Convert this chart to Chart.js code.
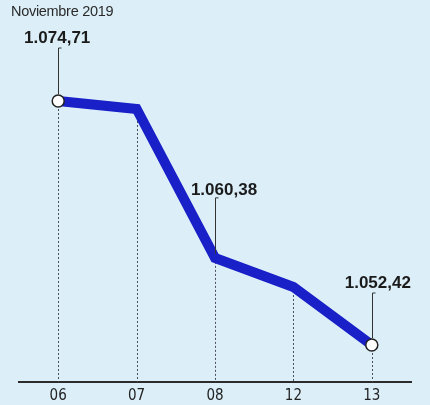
<!DOCTYPE html>
<html>
<head>
<meta charset="utf-8">
<script src="https://cdn.jsdelivr.net/npm/chart.js@4/dist/chart.umd.min.js"></script>
<style>
  html, body { margin: 0; padding: 0; background: #dceff8; }
  #wrap { position: relative; width: 430px; height: 405px; }
  #title { position: absolute; left: 11px; top: 3px; font: 14.5px "Liberation Sans", Arial, sans-serif; color: #2a2a2a; letter-spacing: -0.3px; }
</style>
</head>
<body>
<div id="wrap">
  <canvas id="chart" width="430" height="405"></canvas>
  <div id="title">Noviembre 2019</div>
</div>
<script>
const days = ['06', '07', '08', '12', '13'];
const rates = [1074.71, 1073.98, 1060.38, 1057.72, 1052.42];
const labeled = [0, 2, 4];

// callout placement per labelled point: text offset and leader length
const calloutStyle = {
    0: { dx: -1, textUp: 58, leadUp: 53 },
    2: { dx: 9, textUp: 63, leadUp: 60 },
    4: { dx: 6, textUp: 57, leadUp: 52 }
};

const fmt = v => v.toLocaleString('de-DE', { minimumFractionDigits: 2, maximumFractionDigits: 2 });

const guides = {
    id: 'guides',
    beforeDatasetsDraw(chart) {
        const ctx = chart.ctx;
        const meta = chart.getDatasetMeta(0);
        const bottom = chart.chartArea.bottom;
        ctx.save();
        ctx.strokeStyle = '#4a4f5c';
        ctx.lineWidth = 1;
        ctx.setLineDash([2, 2]);
        meta.data.forEach(pt => {
            ctx.beginPath();
            ctx.moveTo(Math.round(pt.x) + 0.5, pt.y);
            ctx.lineTo(Math.round(pt.x) + 0.5, bottom);
            ctx.stroke();
        });
        ctx.restore();
    },
    afterDatasetsDraw(chart) {
        const ctx = chart.ctx;
        const meta = chart.getDatasetMeta(0);
        ctx.save();
        labeled.forEach(i => {
            const pt = meta.data[i];
            const s = calloutStyle[i];
            const x = Math.round(pt.x) + 0.5;
            const r = pt.options.radius || 3;
            ctx.strokeStyle = '#333';
            ctx.lineWidth = 1;
            ctx.setLineDash([]);
            ctx.beginPath();
            ctx.moveTo(x + 3, pt.y - s.leadUp);
            ctx.lineTo(x, pt.y - s.leadUp);
            ctx.lineTo(x, pt.y - r - 1);
            ctx.stroke();
            ctx.fillStyle = '#1b1b1b';
            ctx.font = 'bold 17px "Liberation Sans", Arial, sans-serif';
            ctx.textAlign = 'center';
            ctx.textBaseline = 'alphabetic';
            ctx.fillText(fmt(rates[i]), pt.x + s.dx, pt.y - s.textUp);
        });
        ctx.restore();
    }
};

new Chart(document.getElementById('chart'), {
    type: 'line',
    data: {
        labels: days,
        datasets: [{
            data: rates,
            borderColor: '#1a20c8',
            borderWidth: 10,
            borderJoinStyle: 'miter',
            tension: 0,
            pointRadius: rates.map((v, i) => (i === 0 || i === rates.length - 1) ? 6 : 0),
            pointBackgroundColor: '#ffffff',
            pointBorderColor: '#222',
            pointBorderWidth: 1.5
        }]
    },
    options: {
        responsive: false,
        animation: false,
        layout: { padding: { top: 20, left: 19, right: 19, bottom: 0 } },
        plugins: { legend: { display: false }, tooltip: { enabled: false } },
        scales: {
            x: {
                offset: true,
                afterFit: s => { s.height = 23; },
                grid: { display: false, drawTicks: false },
                border: { display: true, color: '#2b2b2b', width: 2 },
                ticks: {
                    padding: 5,
                    color: '#222',
                    font: { family: '"DejaVu Sans Condensed", "Liberation Sans Narrow", Arial, sans-serif', size: 15 }
                }
            },
            y: {
                display: false,
                min: 1049.04,
                max: 1082.11
            }
        }
    },
    plugins: [guides]
});
</script>
</body>
</html>
